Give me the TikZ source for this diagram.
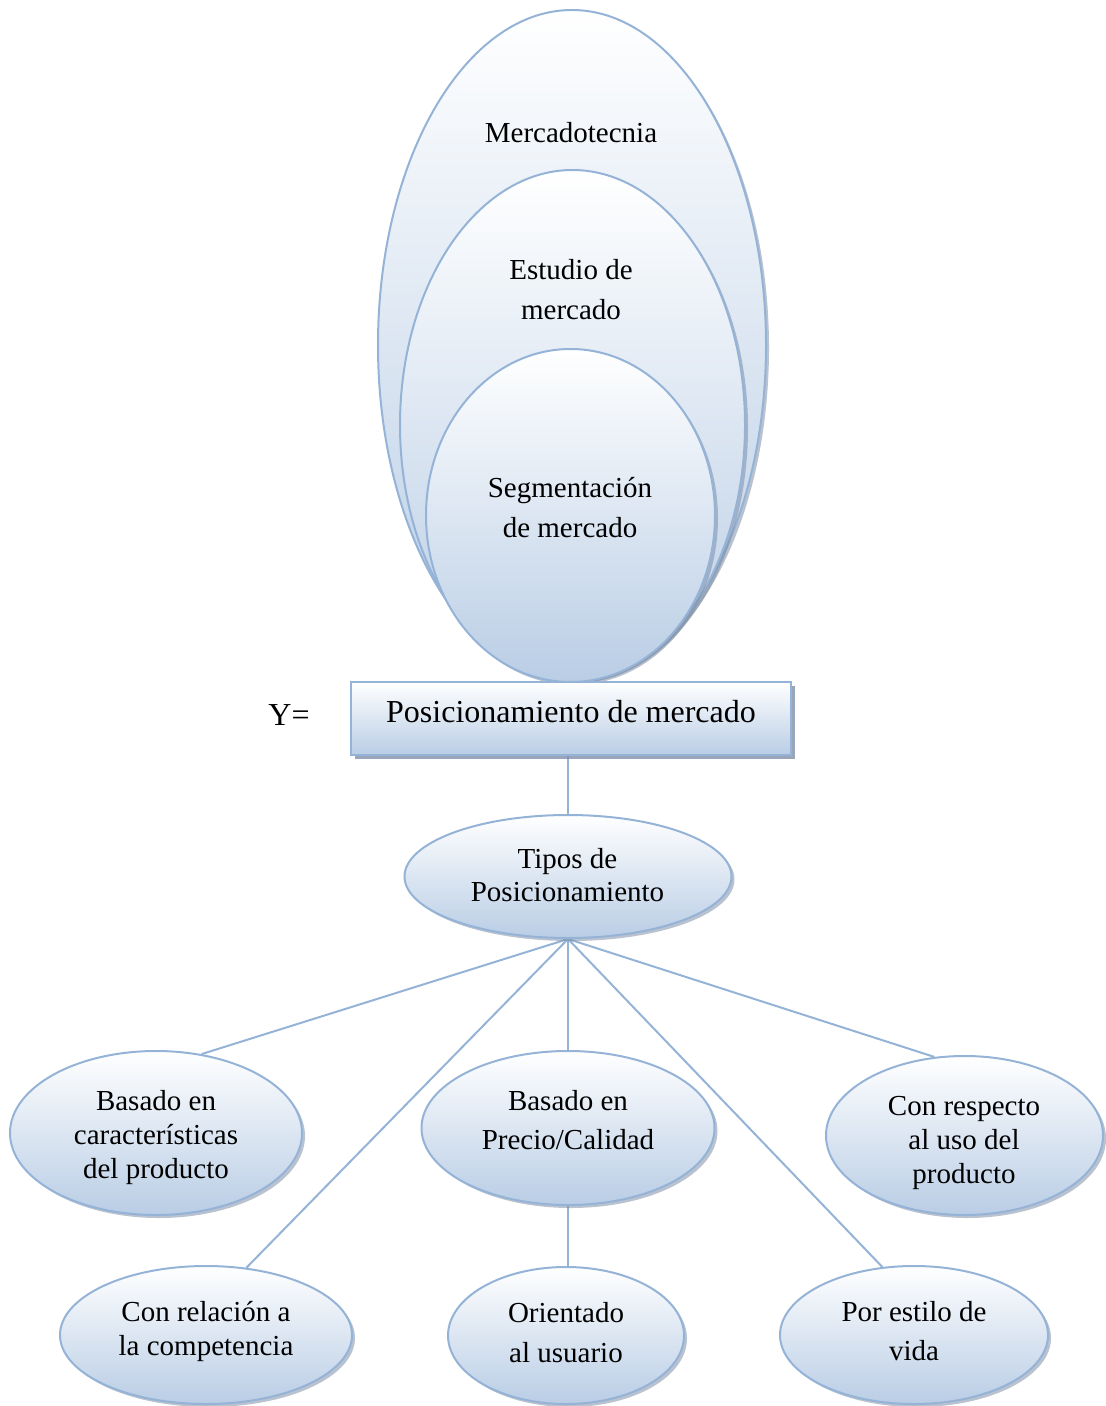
\documentclass[tikz,border=0pt]{standalone}
\usepackage{fontspec}
\setmainfont{Liberation Serif}
\usetikzlibrary{shapes.geometric,shadows,backgrounds,positioning}
\definecolor{rimblue}{HTML}{95B3D7}
\definecolor{fillblue}{HTML}{B9CDE5}
\definecolor{shadowgray}{HTML}{7F8FA6}
\tikzset{
    % Define connector style
    enlace/.style={
           draw=rimblue,
           line width=1pt,},
    % Define shaded fill
    degradado/.style={
           top color=white,
           bottom color=fillblue,
           draw=rimblue,
           line width=1pt,}
}

\begin{document}
\begin{tikzpicture}[x=0.5pt, y=-0.5pt,
elipse/.style={ellipse, degradado, inner sep=0pt,
    drop shadow={shadow xshift=1.5pt, shadow yshift=-1.5pt, fill=shadowgray, opacity=0.55}},
caja/.style={rectangle, degradado, line width=1.4pt, inner sep=0pt,
    drop shadow={shadow xshift=2pt, shadow yshift=-2pt, fill=shadowgray, opacity=0.8}},
texto/.style={align=center, inner sep=0pt, font=\fontsize{14.5}{20}\selectfont},
apretado/.style={texto, font=\fontsize{14.5}{17}\selectfont},
]
\useasboundingbox (0,0) rectangle (1105,1406);

%Nodes
\node[elipse, minimum width=194pt, minimum height=335pt](mkt) at (572,345){};
\node[elipse, minimum width=172.5pt, minimum height=255pt](est) at (572.5,425){};
\node[elipse, minimum width=144.5pt, minimum height=166.5pt](seg) at (570.5,515.5){};
\node[texto](mkttxt) at (571,133){Mercadotecnia};
\node[texto](esttxt) at (571,290){Estudio de\\mercado};
\node[texto](segtxt) at (570,508){Segmentación\\de mercado};

\node[caja, minimum width=220pt, minimum height=36.5pt](pos) at (571,718.5){};
\node[texto, font=\fontsize{16}{19}\selectfont](postxt) at (571,712){Posicionamiento de mercado};
\node[texto, font=\fontsize{16}{19}\selectfont](igual) at (289,715){Y=};

\node[elipse, minimum width=163.5pt, minimum height=61.5pt](tipos) at (568,876.5){};
\node[apretado, font=\fontsize{14.5}{16.5}\selectfont](tipostxt) at (567.5,875){Tipos de\\Posicionamiento};

\node[elipse, minimum width=146pt, minimum height=82pt](carac) at (156,1133){};
\node[apretado](caractxt) at (156,1137.5){Basado en\\características\\del producto};
\node[elipse, minimum width=146.5pt, minimum height=77pt](precio) at (568,1128){};
\node[texto, font=\fontsize{14.5}{19.5}\selectfont](preciotxt) at (568,1120){Basado en\\Precio/Calidad};
\node[elipse, minimum width=138.5pt, minimum height=79.5pt](uso) at (964.5,1135.5){};
\node[apretado](usotxt) at (964,1142.5){Con respecto\\al uso del\\producto};
\node[elipse, minimum width=146pt, minimum height=69pt](compet) at (206,1335){};
\node[apretado](compettxt) at (206,1331){Con relación a\\la competencia};
\node[elipse, minimum width=118pt, minimum height=68.5pt](usuario) at (566,1335.5){};
\node[texto](usuariotxt) at (566,1333){Orientado\\al usuario};
\node[elipse, minimum width=134pt, minimum height=69pt](estilo) at (914,1335){};
\node[texto, font=\fontsize{14.5}{19.5}\selectfont](estilotxt) at (914,1331.5){Por estilo de\\vida};

%Connectors
\begin{pgfonlayer}{background}
\path[enlace] (tipos.north |- pos.south) edge (tipos.north);
\path[enlace] (tipos.south) edge (carac.60);
\path[enlace] (tipos.south) edge (compet.59);
\path[enlace] (tipos.south) edge (precio.north);
\path[enlace] (tipos.south) edge (estilo.115);
\path[enlace] (tipos.south) edge (uso.111);
\path[enlace] (precio.south) edge (precio.south |- usuario.north);
\end{pgfonlayer}

\end{tikzpicture}
\end{document}
